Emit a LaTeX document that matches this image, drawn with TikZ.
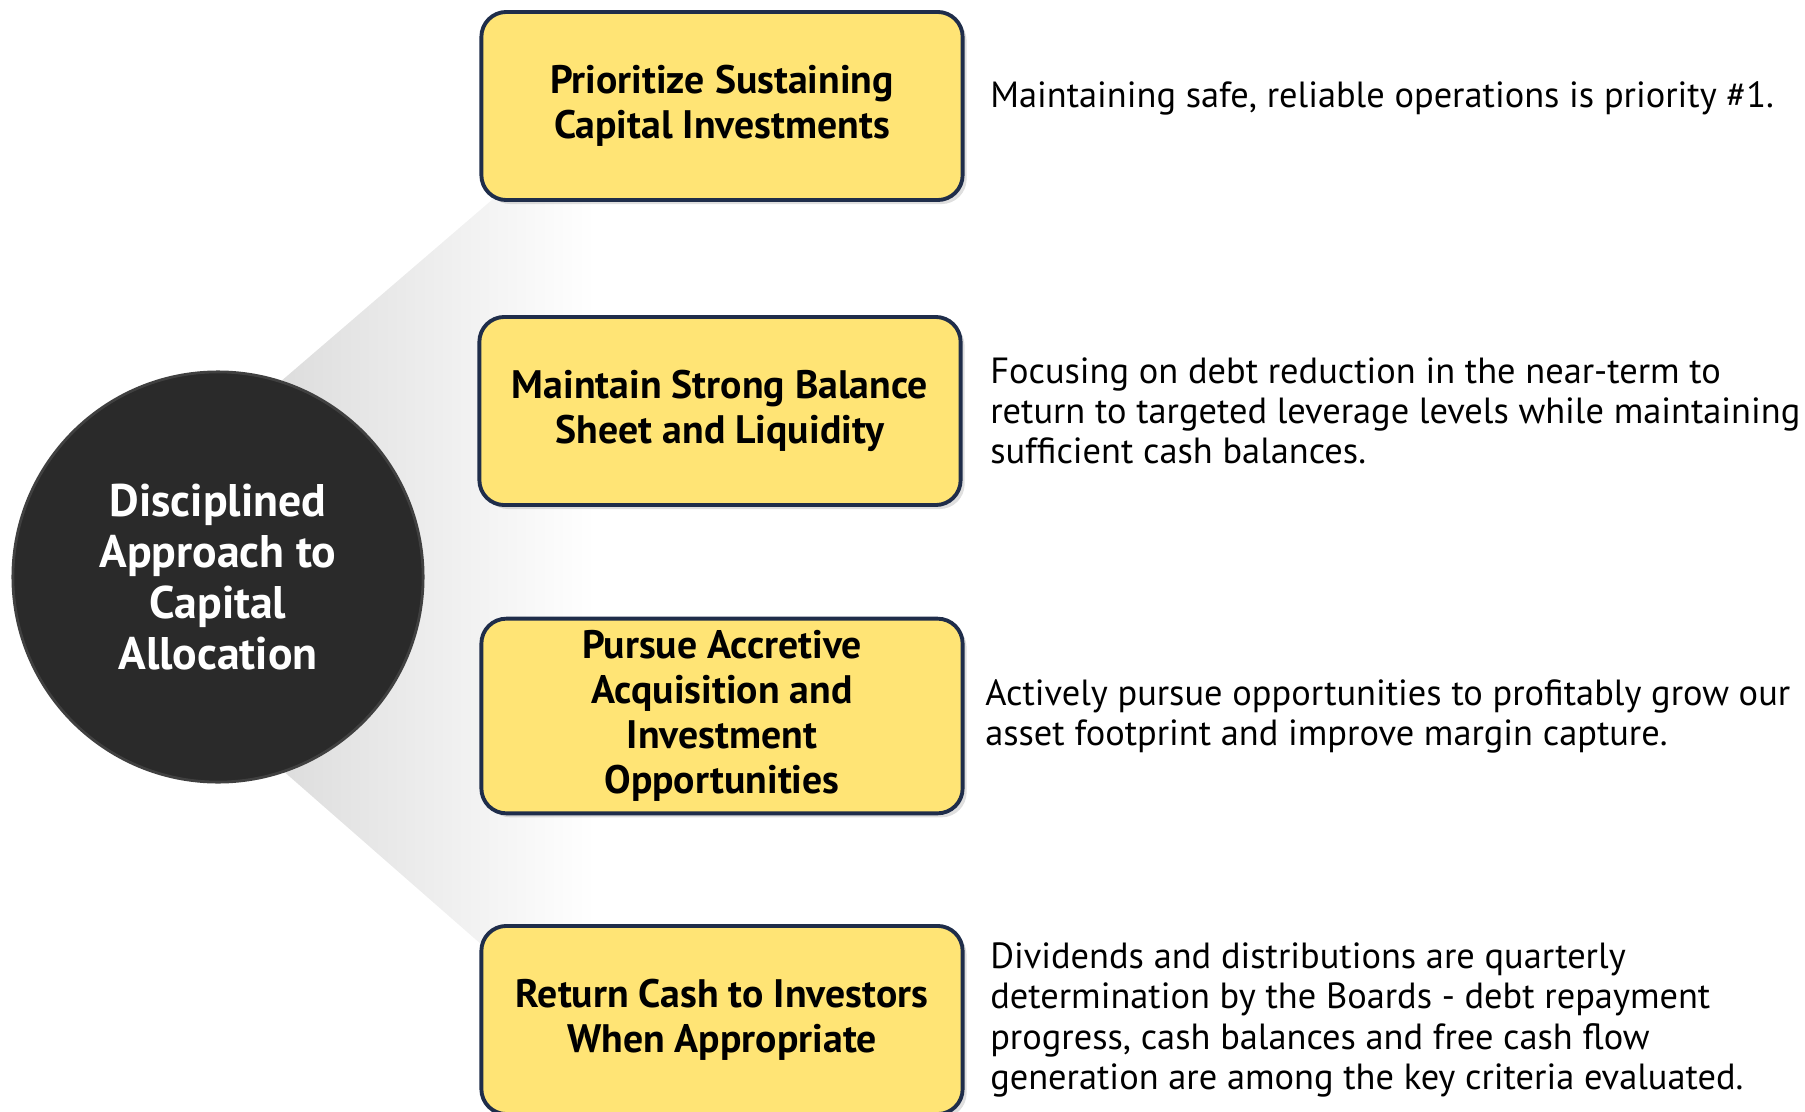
\documentclass[tikz,border=0pt]{standalone}
\usepackage{fontspec}
\setmainfont{PT Sans}
\usepackage{tikz}
\usepackage{xcolor}
\usetikzlibrary{positioning,shadows}
\definecolor{goalfill}{RGB}{255,228,117}
\definecolor{goalline}{RGB}{31,45,74}
\definecolor{hubfill}{RGB}{42,42,42}
\begin{document}
\begin{tikzpicture}[x=0.01cm,y=-0.01cm,
  hub/.style={circle,minimum size=4.1cm,fill=hubfill,draw=black!75,line width=0.8pt,text=white,align=center,font=\fontsize{13}{14.5}\selectfont\bfseries},
  goal/.style={rectangle,rounded corners=0.25cm,minimum width=4.81cm,minimum height=1.88cm,fill=goalfill,draw=goalline,line width=1.1pt,align=center,font=\fontsize{11.3}{12.8}\selectfont\bfseries,drop shadow={opacity=0.25,shadow xshift=0.04cm,shadow yshift=-0.04cm}},
  note/.style={inner sep=0pt,align=left,font=\fontsize{10.35}{11.4}\selectfont}]
\useasboundingbox (0,0) rectangle (1805,1112);
\shade[left color=black!14,right color=white,draw=none] (265,395) -- (500,193) -- (595,193) -- (595,952) -- (490,952) -- (265,755) -- cycle;
\node[hub] (hub) at (218,577) {Disciplined\\Approach to\\Capital\\Allocation};
\node[goal] (g1) at (722,106) {Prioritize Sustaining\\Capital Investments};
\node[goal] (g2) at (720,411) {Maintain Strong Balance\\Sheet and Liquidity};
\node[goal] (g3) at (722,716) {Pursue Accretive\\Acquisition and\\Investment\\Opportunities};
\node[goal] (g4) at (722,1020) {Return Cash to Investors\\When Appropriate};
\node[note,right=0.25cm of g1,yshift=0.08cm] (n1) {Maintaining safe, reliable operations is priority \#1.};
\node[note,right=0.27cm of g2] (n2) {Focusing on debt reduction in the near-term to\\return to targeted leverage levels while maintaining\\sufficient cash balances.};
\node[note,right=0.2cm of g3] (n3) {Actively pursue opportunities to profitably grow our\\asset footprint and improve margin capture.};
\node[note,right=0.25cm of g4] (n4) {Dividends and distributions are quarterly\\determination by the Boards - debt repayment\\progress, cash balances and free cash flow\\generation are among the key criteria evaluated.};
\end{tikzpicture}
\end{document}
